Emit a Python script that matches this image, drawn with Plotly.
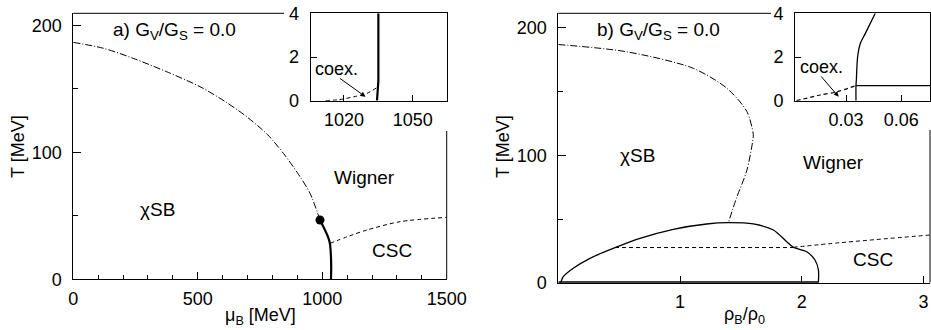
import plotly.graph_objects as go

W, H = 931, 330
FONT = "Liberation Sans, Arial, sans-serif"
FS = 18      # tick labels / axis titles
FS_LAB = 19  # in-plot labels

# ---------------- data: panel a (T vs mu_B) ----------------
a_chiral_mu = [0, 120, 241, 375, 509, 610, 697, 780, 844, 900, 951, 991]
a_chiral_T = [186.6, 182, 174, 163.5, 151.7, 140, 128, 114, 99.2, 84, 67.7, 46.7]
a_first_mu = [991, 1011, 1024, 1031, 1035, 1036, 1035]
a_first_T = [46.7, 38.8, 33, 28, 18, 8, 0]
a_csc_mu = [1031, 1100, 1179, 1313, 1500]
a_csc_T = [28.3, 33.5, 38.8, 45.4, 48.8]
a_cep_mu = [991]
a_cep_T = [46.7]
# inset a
ai_first_mu = [1034.4, 1034.6, 1035, 1035]
ai_first_T = [0, 0.5, 0.9, 4]
ai_coex_mu = [1012, 1018, 1024.3, 1030.1, 1034.4]
ai_coex_T = [0, 0.05, 0.18, 0.34, 0.6]

# ---------------- data: panel b (T vs rho_B/rho_0) ----------------
b_chiral_rho = [0, 0.562, 1.109, 1.384, 1.548, 1.602, 1.597, 1.548, 1.466, 1.397]
b_chiral_T = [187, 181.3, 168.3, 152.7, 134.6, 116.4, 111, 87.8, 67, 47.1]
b_dome_rho = [0.02, 0.041, 0.123, 0.26, 0.466, 0.671, 0.945, 1.219, 1.397, 1.602,
              1.767, 1.877, 1.931, 2.041, 2.109, 2.137, 2.137]
b_dome_T = [0, 4.7, 11.3, 19.1, 27.5, 34.8, 41.9, 46.1, 47.1, 46.1,
            41.4, 32.2, 27.8, 24.3, 17.8, 10, 0]
b_tie_rho = [0.466, 1.931]
b_tie_T = [27.6, 27.6]
b_csc_rho = [1.931, 2.315, 3.05]
b_csc_T = [27.8, 31.4, 37.4]
b_base_rho = [0, 2.137]
b_base_T = [0, 0]
# inset b
bi_coex_rho = [0.003, 0.016, 0.0251, 0.0354]
bi_coex_T = [0, 0.26, 0.41, 0.69]
bi_flat_rho = [0.0354, 0.076]
bi_flat_T = [0.69, 0.69]
bi_first_rho = [0.0354, 0.0354, 0.0356, 0.0363, 0.0378, 0.0405, 0.0459]
bi_first_T = [0, 0.69, 0.95, 2.01, 2.63, 3.08, 4.0]


def px(x):
    return x / W


def py(y):
    return (H - y) / H


DASHDOT = "7px,2px,1px,2px"
DASH = "4px,3px"

fig = go.Figure()


def line(x, y, xa, ya, width=1.0, dash="solid", spline=False):
    fig.add_trace(go.Scatter(
        x=x, y=y, xaxis=xa, yaxis=ya, mode="lines",
        line=dict(color="black", width=width, dash=dash,
                  shape="spline" if spline else "linear", smoothing=0.8),
        cliponaxis=False, showlegend=False, hoverinfo="skip"))


# panel a
line(a_chiral_mu, a_chiral_T, "x", "y", 1, DASHDOT, True)
line(a_first_mu, a_first_T, "x", "y", 2.2, "solid", True)
line(a_csc_mu, a_csc_T, "x", "y", 1, DASH, True)
fig.add_trace(go.Scatter(x=a_cep_mu, y=a_cep_T, xaxis="x", yaxis="y", mode="markers",
                         marker=dict(color="black", size=9), showlegend=False))
# panel b
line(b_chiral_rho, b_chiral_T, "x2", "y2", 1, DASHDOT, True)
line(b_dome_rho, b_dome_T, "x2", "y2", 1.3, "solid", True)
line(b_tie_rho, b_tie_T, "x2", "y2", 1, DASH)
line(b_csc_rho, b_csc_T, "x2", "y2", 1, DASH, True)
line(b_base_rho, b_base_T, "x2", "y2", 3, "solid")
# inset a
line(ai_first_mu, ai_first_T, "x3", "y3", 2.2, "solid")
line(ai_coex_mu, ai_coex_T, "x3", "y3", 1, DASH, True)
# inset b
line(bi_coex_rho, bi_coex_T, "x4", "y4", 1.2, DASH, True)
line(bi_flat_rho, bi_flat_T, "x4", "y4", 1.3, "solid")
line(bi_first_rho, bi_first_T, "x4", "y4", 1.3, "solid", True)

tickfont = dict(family=FONT, size=FS, color="black")
common = dict(showgrid=False, zeroline=False, showline=True, linecolor="black",
              linewidth=1, ticks="inside", tickcolor="black", tickwidth=1,
              tickfont=tickfont, fixedrange=True, automargin=False)

fig.update_layout(
    xaxis=dict(domain=[px(73.3), px(446.7)], range=[0, 1500], anchor="y",
               tickvals=[0, 500, 1000, 1500], ticklen=7,
               minor=dict(ticks="inside", dtick=100, tick0=0, ticklen=4, tickcolor="black"),
               ticklabelstandoff=3, **common),
    yaxis=dict(domain=[py(279.3), py(13.3)], range=[0, 209.5], anchor="x",
               tickvals=[0, 100, 200], ticklen=8,
               minor=dict(ticks="inside", dtick=50, tick0=0, ticklen=5, tickcolor="black"),
               ticklabelstandoff=7, **common),
    xaxis2=dict(domain=[px(558.3), px(930)], range=[0, 3.054], anchor="y2",
                tickvals=[1, 2, 3], ticklen=7, ticklabelstandoff=3, **common),
    yaxis2=dict(domain=[py(282.7), py(13.3)], range=[0, 211.5], anchor="x2",
                tickvals=[0, 100, 200], ticklen=8,
                minor=dict(ticks="inside", dtick=50, tick0=0, ticklen=5, tickcolor="black"),
                ticklabelstandoff=7, **common),
    xaxis3=dict(domain=[px(310.5), px(446.7)], range=[1005.4, 1064.8], anchor="y3",
                tickvals=[1020, 1050], ticklen=6, mirror=True, ticklabelstandoff=3, **common),
    yaxis3=dict(domain=[py(100.7), py(13.3)], range=[0, 4], anchor="x3",
                tickvals=[0, 2, 4], ticklen=6, mirror=True, ticklabelstandoff=7, **common),
    xaxis4=dict(domain=[px(795), px(930)], range=[0.0022, 0.0757], anchor="y4",
                tickvals=[0.03, 0.06], ticktext=["0.03", "0.06"], ticklen=6, mirror=True,
                ticklabelstandoff=3, **common),
    yaxis4=dict(domain=[py(100.7), py(13.3)], range=[0, 4], anchor="x4",
                tickvals=[0, 2, 4], ticklen=6, mirror=True, ticklabelstandoff=7, **common),
)

frame = dict(type="line", xref="paper", yref="paper", line=dict(color="black", width=1))
fig.add_shape(x0=px(73.3), x1=px(284), y0=py(13.3), y1=py(13.3), **frame)
fig.add_shape(x0=px(446.7), x1=px(446.7), y0=py(279.3), y1=py(131), **frame)
fig.add_shape(x0=px(558.3), x1=px(771), y0=py(13.3), y1=py(13.3), **frame)
fig.add_shape(x0=px(930), x1=px(930), y0=py(282.7), y1=py(130), **frame)

anns = []


def txt(x, y, s, xref, yref, xanchor="center", yanchor="middle", angle=0, size=FS_LAB):
    anns.append(dict(x=x, y=y, xref=xref, yref=yref, text=s, showarrow=False,
                     xanchor=xanchor, yanchor=yanchor, textangle=angle,
                     font=dict(family=FONT, size=size, color="black")))


txt(152, 195.5, "a) G<sub>V</sub>/G<sub>S</sub> = 0.0", "x", "y", xanchor="left")
txt(338, 54.6, "\u03c7SB", "x", "y")
txt(1168, 80.5, "Wigner", "x", "y")
txt(1280, 22.3, "CSC", "x", "y")
txt(0.30, 197.6, "b) G<sub>V</sub>/G<sub>S</sub> = 0.0", "x2", "y2", xanchor="left")
txt(0.651, 100.2, "\u03c7SB", "x2", "y2")
txt(2.257, 94.3, "Wigner", "x2", "y2")
txt(2.586, 18.2, "CSC", "x2", "y2")
txt(px(18), py(147), "T [MeV]", "paper", "paper", angle=-90, size=FS)
txt(px(503), py(147), "T [MeV]", "paper", "paper", angle=-90, size=FS)
txt(px(260), py(316), "\u03bc<sub>B</sub> [MeV]", "paper", "paper", size=FS)
txt(px(744), py(315), "\u03c1<sub>B</sub>/\u03c1<sub>0</sub>", "paper", "paper", size=FS)
txt(1016.7, 1.45, "coex.", "x3", "y3", size=FS)
txt(0.0165, 1.53, "coex.", "x4", "y4", size=FS)

arrow = dict(showarrow=True, text="", arrowhead=2, arrowsize=1, arrowwidth=1,
             arrowcolor="black", standoff=0, startstandoff=0)
anns.append(dict(x=1029.4, y=0.18, ax=1017.6, ay=1.07, xref="x3", yref="y3",
                 axref="x3", ayref="y3", **arrow))
anns.append(dict(x=0.026, y=0.18, ax=0.0157, ay=1.18, xref="x4", yref="y4",
                 axref="x4", ayref="y4", **arrow))

fig.update_layout(
    annotations=anns,
    width=W, height=H,
    margin=dict(l=0, r=0, t=0, b=0, autoexpand=False),
    paper_bgcolor="white", plot_bgcolor="white",
    showlegend=False,
    font=dict(family=FONT, size=FS, color="black"),
)

fig.write_html("out.html", config={"displayModeBar": False})
